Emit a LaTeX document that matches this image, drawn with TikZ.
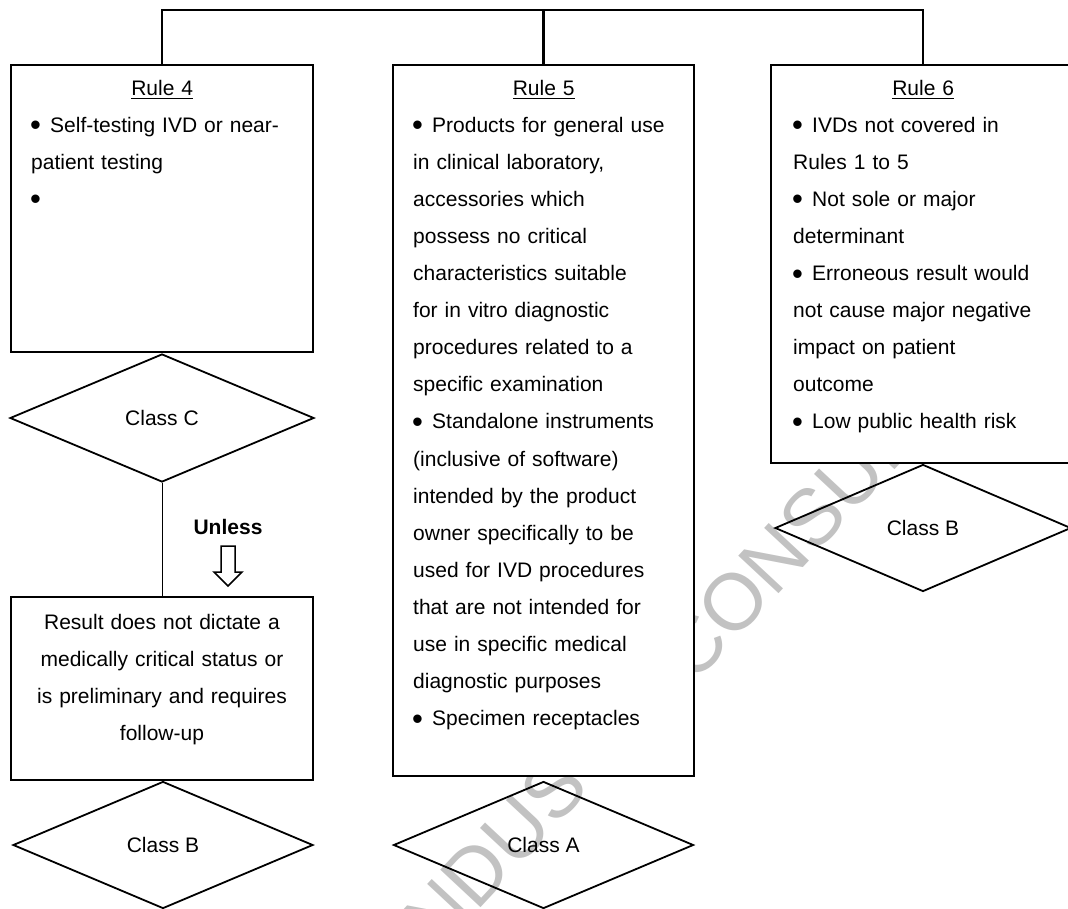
\documentclass[tikz,border=0pt]{standalone}
\usepackage{fontspec}
\setmainfont{Liberation Sans}
\usepackage{xcolor}
\usepackage{tikz}
\usetikzlibrary{positioning, calc, shapes.geometric}
\definecolor{wmgray}{HTML}{C2C2C2}
\setlength{\parskip}{0pt}

\newcommand{\rulept}{\par\hangindent=19pt\hangafter=1\noindent
  \hbox to 19pt{\hskip-1pt\raisebox{-3.5pt}{\fontsize{31}{31}\selectfont\textbullet}\hfil}}
\newcommand{\rulehead}[1]{\noindent\hbox to\linewidth{\hfil\setbox0\hbox{#1}\rlap{\rule[-4pt]{\wd0}{1.5pt}}\box0\hfil}\par}

\tikzset{
  rulebox/.style={draw, fill=white, line width=1.8pt, inner sep=0pt},
  ruletext/.style={anchor=base west, inner sep=0pt, text width=#1, align=left,
    font=\fontsize{21}{37.1}\selectfont},
  restext/.style={anchor=base, inner sep=0pt, text width=300pt, align=center,
    font=\fontsize{21}{37.1}\selectfont},
  classdia/.style={diamond, draw, line width=1.8pt, inner sep=0pt, aspect=2.36,
    minimum width=300pt, minimum height=127pt, font=\fontsize{21}{25}\selectfont},
  bracket/.style={line width=2.2pt},
  thinline/.style={line width=1pt},
  watermark/.style={text=wmgray, inner sep=0pt, anchor=base west, rotate=47,
    font=\fontsize{80}{80}\selectfont},
}

\begin{document}
\begin{tikzpicture}[x=1pt, y=-1pt]
\useasboundingbox (0,0) rectangle (1068,908);
% watermark, partly hidden by the boxes
\node[watermark] (wmleft) at (422,971) {INDUS};
\node[watermark] (wmright) at (693,686) {CONSUL};

% rule boxes
\node[rulebox, minimum width=302pt, minimum height=287pt] (rule4) at (162,208.5) {};
\node[rulebox, minimum width=301pt, minimum height=711pt] (rule5) at (543.5,420.5) {};
\node[rulebox, minimum width=304pt, minimum height=398pt] (rule6) at (923,264) {};
\node[rulebox, minimum width=302pt, minimum height=183pt] (resbox) at (162,688.5) {};

\node[ruletext=262pt] (rule4txt) at (31,95) {\rulehead{Rule 4}%
\rulept Self-testing IVD or near-\\patient testing
\rulept\par};
\node[ruletext=261pt] (rule5txt) at (413,95) {\rulehead{Rule 5}%
\rulept Products for general use\\in clinical laboratory,\\accessories which\\possess no critical\\characteristics suitable\\for in vitro diagnostic\\procedures related to a\\specific examination
\rulept Standalone instruments\\(inclusive of software)\\intended by the product\\owner specifically to be\\used for IVD procedures\\that are not intended for\\use in specific medical\\diagnostic purposes
\rulept Specimen receptacles\par};
\node[ruletext=260pt] (rule6txt) at (793,95) {\rulehead{Rule 6}%
\rulept IVDs not covered in\\Rules 1 to 5
\rulept Not sole or major\\determinant
\rulept Erroneous result would\\not cause major negative\\impact on patient\\outcome
\rulept Low public health risk\par};
\node[restext] (restxt) at (162,629.5) {Result does not dictate a\\medically critical status or\\is preliminary and requires\\follow-up};

% classes
\node[classdia, minimum width=304pt, minimum height=128pt] (classC) at (162,418) {Class C};
\node[classdia] (classBleft) at (163,845) {Class B};
\node[classdia] (classA) at (543.5,845) {Class A};
\node[classdia, minimum width=296pt] (classBright) at (923,528) {Class B};

% connectors
\coordinate (topbar) at (543.5,10);
\draw[bracket] (rule4.north) |- (topbar) -| (rule6.north);
\draw[bracket] (topbar) -- (rule5.north);
\draw[thinline] (classC.south) -- (resbox.north);

\node[font=\bfseries\fontsize{21}{25}\selectfont] (unless) at (228,527) {Unless};
\draw[line width=1.5pt] (221,546) -- (235,546) -- (235,572) -- (242,572) -- (228,586)
  -- (214,572) -- (221,572) -- cycle;
\end{tikzpicture}
\end{document}
